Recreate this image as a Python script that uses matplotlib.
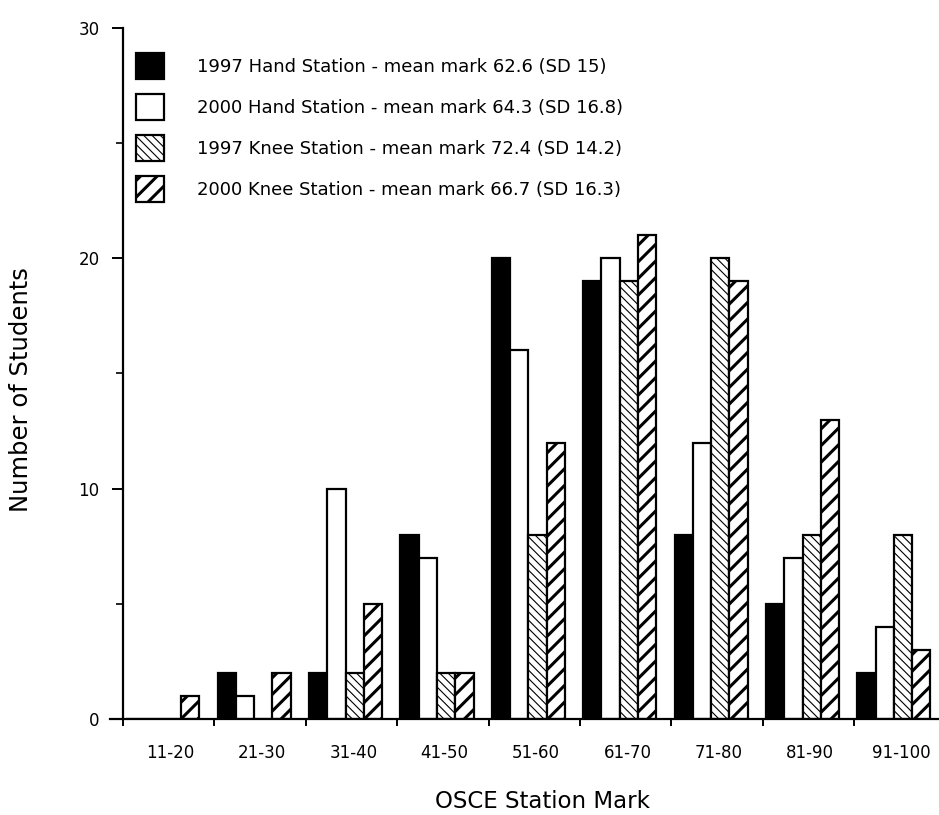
import matplotlib
matplotlib.use("Agg")
import matplotlib.pyplot as plt
import numpy as np

categories = ['11-20', '21-30', '31-40', '41-50', '51-60', '61-70', '71-80', '81-90', '91-100']
hand_1997 = [0, 2, 2, 8, 20, 19, 8, 5, 2]
hand_2000 = [0, 1, 10, 7, 16, 20, 12, 7, 4]
knee_1997 = [0, 0, 2, 2, 8, 19, 20, 8, 8]
knee_2000 = [1, 2, 5, 2, 12, 21, 19, 13, 3]
labels = ['1997 Hand Station - mean mark 62.6 (SD 15)',
          '2000 Hand Station - mean mark 64.3 (SD 16.8)',
          '1997 Knee Station - mean mark 72.4 (SD 14.2)',
          '2000 Knee Station - mean mark 66.7 (SD 16.3)']

fig = plt.figure(figsize=(9.39, 8.15), dpi=100)
ax = fig.add_axes([0.131, 0.1178, 0.876, 0.8479])

x = np.arange(len(categories))
w = 0.2
off = 0.035

# fill, hatch, hatch line width
styles = [('black', None, 1.0),
          ('white', None, 1.0),
          ('white', '\\\\\\\\', 0.8),
          ('white', '//', 2.2)]
series = [hand_1997, hand_2000, knee_1997, knee_2000]

for k, (vals, st, lab) in enumerate(zip(series, styles, labels)):
    bars = ax.bar(x + off + k * w, vals, width=w, align='edge', color=st[0],
                  edgecolor='black', linewidth=1.6, hatch=st[1], label=lab)
    for b in bars:
        try:
            b.set_hatch_linewidth(st[2])
        except AttributeError:
            pass

ax.set_xlim(0, 9)
ax.set_ylim(0, 30)
ax.spines['top'].set_visible(False)
ax.spines['right'].set_visible(False)
ax.spines['left'].set_linewidth(1.6)
ax.spines['bottom'].set_linewidth(1.6)
ax.spines['bottom'].set_bounds(-0.14, 9)

ax.set_yticks([0, 10, 20, 30])
ax.set_yticks([5, 15, 25], minor=True)
ax.tick_params(axis='y', which='major', length=8, width=1.4, labelsize=12, pad=9)
ax.tick_params(axis='y', which='minor', length=5, width=1.2)

ax.set_xticks(np.arange(0, 9))
ax.set_xticklabels([])
ax.set_xticks(x + 0.52, minor=True)
ax.set_xticklabels(categories, minor=True)
ax.tick_params(axis='x', which='major', length=5, width=1.4)
ax.tick_params(axis='x', which='minor', length=0, labelsize=12, pad=18)

ax.set_ylabel('Number of Students', fontsize=17.5)
ax.yaxis.set_label_coords(-0.109, 0.476)
ax.set_xlabel('OSCE Station Mark', fontsize=16.5)
ax.xaxis.set_label_coords(0.51, -0.103)

leg = ax.legend(loc='upper left', bbox_to_anchor=(136 / 939, 1 - 53 / 815),
                bbox_transform=fig.transFigure, frameon=False,
                fontsize=13, handlelength=1.55, handleheight=1.88,
                handletextpad=1.83, labelspacing=0.8, borderaxespad=0, borderpad=0)
for h, st in zip(leg.legend_handles, styles):
    try:
        h.set_hatch_linewidth(st[2])
    except AttributeError:
        pass

fig.savefig('out.png', dpi=100)
